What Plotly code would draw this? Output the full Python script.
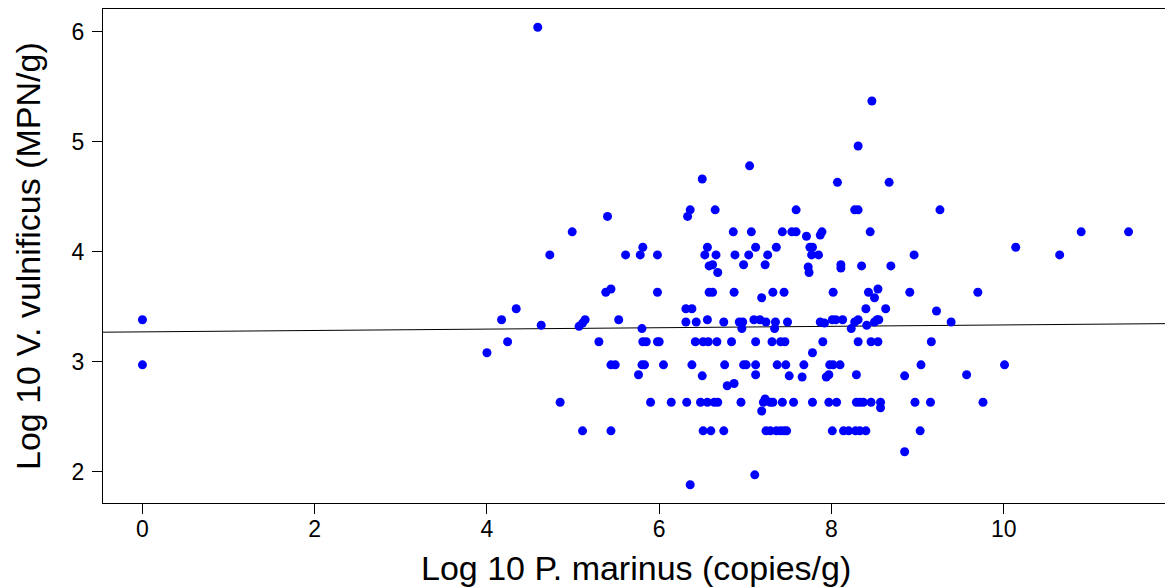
import plotly.graph_objects as go

# Log10 P. marinus (copies/g)
x_vals = [
    0, 0, 4.59,
    5.40, 6.33, 6.36, 6.50, 6.65, 7.05, 7.59, 8.07, 8.27, 8.31, 8.31,
    8.47, 8.67, 9.26,
    4.99, 4.73, 5.61, 5.78, 5.81, 5.38, 5.44, 4.34, 4.17, 4.63, 5.07, 5.11, 5.14, 5.53, 5.80, 4.24, 5.30, 5.81, 5.85,
    4.00, 5.44, 5.49, 5.80, 5.83, 5.76, 4.85, 5.11, 5.44,
    6.86, 7.07, 7.43, 7.54, 7.59, 7.89, 7.87, 7.71,
    6.56, 7.12, 7.36, 7.75, 7.78,
    5.98, 6.53, 6.66, 6.88, 7.04, 7.26, 7.77, 7.85,
    6.58, 6.62, 6.98, 7.23, 7.73, 6.68, 7.74,
    5.98, 6.58, 6.62, 6.87, 7.32, 7.45, 7.19,
    6.31, 6.38,
    6.31, 6.43, 6.56, 6.75, 6.93, 6.97, 7.10, 7.17, 7.24, 7.35, 7.49, 7.87, 7.92,
    6.96, 7.34,
    5.98, 6.00, 6.42, 6.51, 6.57, 6.67, 6.84, 7.12, 7.31, 7.41, 7.46, 7.90,
    7.78,
    6.05, 6.38, 6.76, 6.98, 7.01, 7.12, 7.37, 7.47, 7.68,
    6.50, 7.12, 7.51, 7.66, 6.79, 6.87,
    5.90, 6.14, 6.32, 6.48, 6.56, 6.64, 6.68, 6.95, 7.21, 7.29, 7.32, 7.43, 7.56, 7.78,
    7.23, 7.19,
    6.51, 6.60, 6.75, 7.24, 7.29, 7.36, 7.41, 7.45, 7.48,
    7.11, 6.36,
    8.45, 10.14, 8.96, 8.11, 8.11, 8.35, 8.69, 8.02, 8.43, 8.54, 8.50, 8.91, 9.70, 8.40, 8.63, 9.22,
    8.01, 8.05, 8.13, 8.27, 8.31, 8.23, 8.41, 8.50, 8.53, 8.55, 9.39,
    8.31, 8.46, 8.54, 9.16,
    7.98, 8.02, 8.10, 9.04, 10.01,
    7.94, 7.97, 8.29, 8.85, 9.57,
    7.97, 8.06, 8.29, 8.33, 8.37, 8.46, 8.57, 8.97, 9.15, 9.76,
    8.57,
    8.01, 8.14, 8.20, 8.28, 8.33, 8.40, 9.03,
    8.85,
    10.65, 10.90, 11.45,
]

# Log10 V. vulnificus (MPN/g)
y_vals = [
    3.38, 2.97, 6.04,
    4.32, 4.32, 4.38, 4.66, 4.38, 4.78, 4.38, 4.63, 4.38, 4.38, 4.96,
    5.37, 4.63, 4.38,
    4.18, 3.97, 3.97, 3.97, 4.04, 3.63, 3.66, 3.48, 3.38, 3.33, 3.32, 3.35, 3.38, 3.38, 3.30, 3.18, 3.18, 3.18, 3.18,
    3.08, 2.97, 2.97, 2.97, 2.97, 2.88, 2.63, 2.37, 2.37,
    4.18, 4.18, 4.18, 4.18, 4.18, 4.18, 4.15, 4.14,
    4.04, 4.04, 4.04, 4.04, 4.04,
    3.97, 3.97, 3.97, 3.97, 3.97, 3.97, 3.97, 3.97,
    3.87, 3.88, 3.88, 3.88, 3.86, 3.81, 3.81,
    3.63, 3.63, 3.63, 3.63, 3.63, 3.63, 3.58,
    3.48, 3.48,
    3.36, 3.36, 3.38, 3.36, 3.36, 3.36, 3.38, 3.38, 3.36, 3.36, 3.36, 3.36, 3.35,
    3.30, 3.30,
    3.18, 3.18, 3.18, 3.18, 3.18, 3.18, 3.18, 3.18, 3.18, 3.18, 3.18, 3.18,
    3.08,
    2.97, 2.97, 2.97, 2.97, 2.97, 2.97, 2.97, 2.97, 2.97,
    2.87, 2.88, 2.87, 2.86, 2.78, 2.80,
    2.63, 2.63, 2.63, 2.63, 2.63, 2.63, 2.63, 2.63, 2.63, 2.63, 2.63, 2.63, 2.63, 2.63,
    2.66, 2.55,
    2.37, 2.37, 2.37, 2.37, 2.37, 2.37, 2.37, 2.37, 2.37,
    1.97, 1.88,
    4.18, 4.04, 3.97, 3.88, 3.85, 3.87, 3.87, 3.63, 3.63, 3.66, 3.58, 3.63, 3.63, 3.48, 3.48, 3.46,
    3.38, 3.38, 3.38, 3.36, 3.38, 3.30, 3.33, 3.36, 3.38, 3.38, 3.36,
    3.18, 3.18, 3.18, 3.18,
    2.97, 2.97, 2.97, 2.97, 2.97,
    2.86, 2.88, 2.88, 2.87, 2.88,
    2.63, 2.63, 2.63, 2.63, 2.63, 2.63, 2.63, 2.63, 2.63, 2.63,
    2.58,
    2.37, 2.37, 2.37, 2.37, 2.37, 2.37, 2.37,
    2.18,
    3.97, 4.18, 4.18,
]

# fitted regression line
fit_intercept = 3.27
fit_slope = 0.0063

x_ticks = [0, 2, 4, 6, 8, 10]
y_ticks = [2, 3, 4, 5, 6]

x_title = "Log 10 P. marinus (copies/g)"
y_title = "Log 10 V. vulnificus (MPN/g)"


def r_range(v):
    lo, hi = min(v), max(v)
    pad = 0.04 * (hi - lo)
    return [lo - pad, hi + pad]


xr = r_range(x_vals)
yr = r_range(y_vals)

FONT = "Liberation Sans, Arial, sans-serif"
TICK_SIZE = 23
TITLE_SIZE = 34

fig = go.Figure()
fig.add_trace(go.Scatter(
    x=xr, y=[fit_intercept + fit_slope * v for v in xr],
    mode="lines", line=dict(color="black", width=1),
    hoverinfo="skip", showlegend=False,
))
fig.add_trace(go.Scatter(
    x=x_vals, y=y_vals, mode="markers",
    marker=dict(color="#0000FF", size=9, line=dict(width=0)),
    showlegend=False,
))

# the page body adds an 8px offset, so the figure is drawn 8px smaller
fig.update_layout(
    width=1165, height=580,
    margin=dict(l=95, r=5, t=1, b=85),
    paper_bgcolor="white", plot_bgcolor="white",
    font=dict(family=FONT, color="black", size=TICK_SIZE),
    xaxis=dict(
        range=xr, tickvals=x_ticks, ticktext=[str(t) for t in x_ticks],
        showgrid=False, zeroline=False, showline=True, mirror=True,
        linecolor="black", linewidth=1, ticks="outside", ticklen=10,
        tickcolor="black", tickfont=dict(size=TICK_SIZE, family=FONT),
        ticklabelstandoff=-5, automargin=False,
    ),
    yaxis=dict(
        range=yr, tickvals=y_ticks, ticktext=[str(t) for t in y_ticks],
        showgrid=False, zeroline=False, showline=True, mirror=True,
        linecolor="black", linewidth=1, ticks="outside", ticklen=10,
        tickcolor="black", tickfont=dict(size=TICK_SIZE, family=FONT),
        ticklabelstandoff=3, automargin=False,
    ),
    annotations=[
        dict(text=x_title, xref="paper", yref="paper", x=0.5, y=0,
             yshift=-65, xanchor="center", yanchor="middle", showarrow=False,
             font=dict(size=TITLE_SIZE, family=FONT)),
        dict(text=y_title, xref="paper", yref="paper", x=0, y=0.5,
             xshift=-75, xanchor="center", yanchor="middle", showarrow=False,
             textangle=-90, font=dict(size=TITLE_SIZE, family=FONT)),
    ],
)

fig.write_html("out.html")
